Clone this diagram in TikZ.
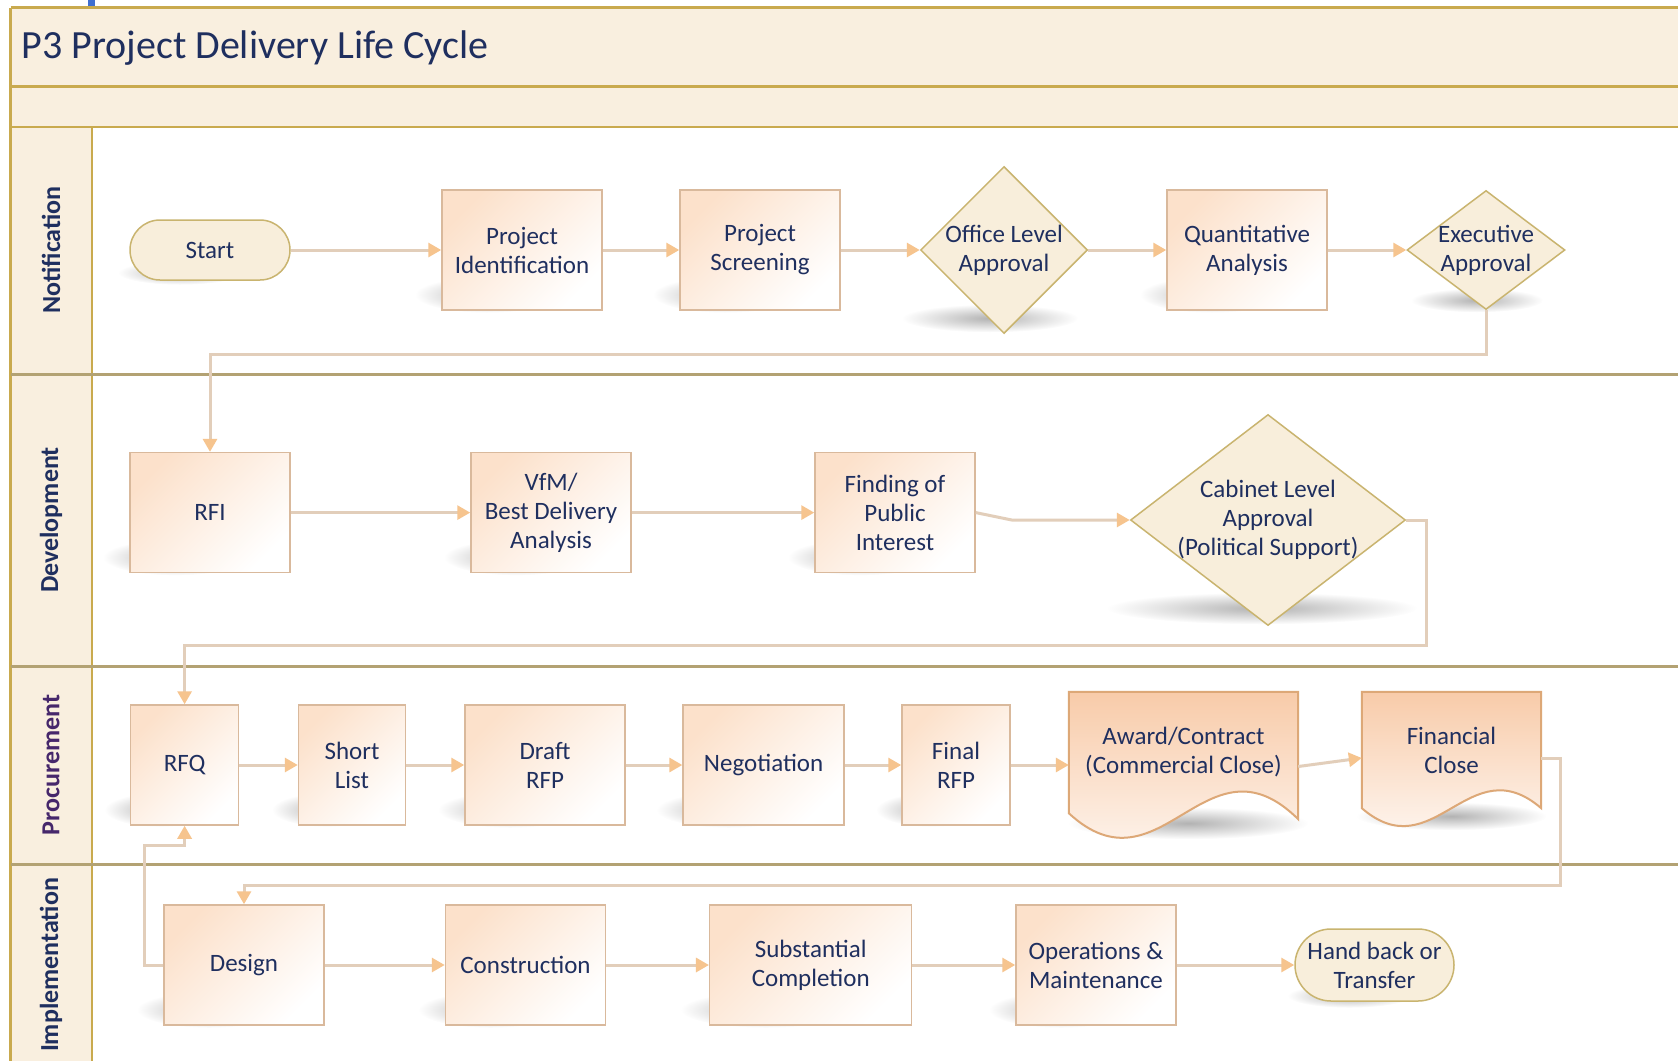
\documentclass[tikz,border=0pt]{standalone}
\usepackage{fontspec}
\setmainfont{Carlito}
\usetikzlibrary{arrows.meta,shapes.geometric,fadings,backgrounds}

\definecolor{navy}{HTML}{1F2F5F}
\definecolor{plum}{HTML}{46276B}
\definecolor{band}{HTML}{F9EFDF}
\definecolor{gold}{HTML}{C9AA4E}
\definecolor{olive}{HTML}{B3A273}
\definecolor{peach}{HTML}{FCE1CB}
\definecolor{peachdeep}{HTML}{F8CBA9}
\definecolor{boxline}{HTML}{D9B99C}
\definecolor{docline}{HTML}{DDA877}
\definecolor{cream}{HTML}{F8EEDB}
\definecolor{creamline}{HTML}{C9B46F}
\definecolor{flowline}{HTML}{E2CEBA}
\definecolor{flowtip}{HTML}{F6C48E}
\definecolor{marker}{HTML}{3F6FD0}

\tikzfading[name=softshade, inner color=transparent!70, outer color=transparent!100]

% shadow under a shape: centre, x radius, y radius
\newcommand{\castshadow}[3]{\fill[black, path fading=softshade] #1 ellipse (#2 and #3);}

\begin{document}
\begin{tikzpicture}[x=1pt, y=-1pt,
  txt/.style={font=\fontsize{25}{29}\selectfont, text=navy, align=center},
  process/.style={txt, rectangle, draw=boxline, line width=1.5pt, top color=peach, bottom color=white, shading angle=45, minimum width=160pt, minimum height=120pt, inner sep=2pt},
  decision/.style={diamond, draw=creamline, fill=cream, line width=1.5pt, inner sep=0pt},
  terminal/.style={txt, rectangle, rounded corners=30pt, draw=creamline, fill=cream, line width=1.5pt, minimum width=160pt, minimum height=60pt, inner sep=2pt},
  document/.style={txt, rectangle, inner sep=0pt},
  docshape/.style={draw=docline, line width=2pt, top color=peachdeep, bottom color=white},
  lane/.style={font=\fontsize{26}{30}\selectfont\bfseries, text=navy, rotate=90},
  flow/.style={draw=flowline, line width=3pt, -{Triangle[length=13pt, width=14pt, color=flowtip]}},
  divider/.style={draw=olive, line width=3pt},
]
\useasboundingbox (0,0) rectangle (1678,1060);

% frame
\fill[marker] (88,0) rectangle (95,6);
\fill[band] (10.7,7.5) rectangle (1690,127);
\fill[band] (10.7,127) rectangle (92,1070);
\draw[gold, line width=2.5pt] (10.7,7.5) --  (1690,7.5);
\draw[gold, line width=2.5pt] (10.7,86.7) --  (1690,86.7);
\draw[gold, line width=2.5pt] (10.7,127) --  (1690,127);
\draw[gold, line width=2.5pt] (10.7,7.5) --  (10.7,1070);
\draw[gold, line width=2.5pt] (92,127) --  (92,1070);
\draw[divider] (10.7,374.6) --  (1690,374.6);
\draw[divider] (10.7,666.7) --  (1690,666.7);
\draw[divider] (10.7,864.7) --  (1690,864.7);

\node[anchor=west, font=\fontsize{40}{46}\selectfont, text=navy] (title) at (18,48) {P3 Project Delivery Life Cycle};

\node[lane] (notif)   at (51,250)   {Notification};
\node[lane] (devel)   at (51,520)   {Development};
\node[lane, text=plum] (procure) at (51,765) {Procurement};
\node[lane] (implem)  at (51,965)   {Implementation};

% notification
\node[terminal] (start) at (210,250)  {Start};
\node[process]  (pid)   at (522,250)  {Project\\Identification};
\node[process]  (psc)   at (760,250)  {Project\\Screening};
\node[decision, minimum width=167pt, minimum height=167pt, label={[txt]center:{Office Level\\Approval}}] (ola) at (1004,250) {};
\node[process]  (qa)    at (1247,250) {Quantitative\\Analysis};
\node[decision, minimum width=158pt, minimum height=119pt, label={[txt]center:{Executive\\Approval}}] (exa) at (1486,250) {};

% development
\node[process]  (rfi)   at (210,512.6) {RFI};
\node[process]  (vfm)   at (551,512.6) {VfM/\\Best Delivery\\Analysis};
\node[process]  (fpi)   at (895,512.6) {Finding of\\Public\\Interest};
\node[decision, minimum width=275pt, minimum height=211pt, label={[txt]center:{Cabinet Level\\Approval\\(Political Support)}}] (cab) at (1268,520) {};

% procurement
\node[process, minimum width=108pt] (rfq)  at (184.6,765) {RFQ};
\node[process, minimum width=107pt] (sl)   at (352,765)   {Short\\List};
\node[process]                      (drfp) at (545,765)   {Draft\\RFP};
\node[process, minimum width=161pt] (neg)  at (763.6,765) {Negotiation};
\node[process, minimum width=108pt] (frfp) at (956,765)   {Final\\RFP};
\node[document, minimum width=229pt, minimum height=121pt] (aw) at (1183.5,752.5) {Award/Contract\\(Commercial Close)};
\node[document, minimum width=179pt, minimum height=116pt] (fc) at (1451.5,750)   {Financial\\Close};

% implementation
\node[process]  (des)   at (244,965)   {Design};
\node[process]  (con)   at (525.5,965) {Construction};
\node[process, minimum width=202pt] (sub) at (810.7,965) {Substantial\\Completion};
\node[process]  (om)    at (1096,965)  {Operations \&\\Maintenance};
\node[terminal, rounded corners=36pt, minimum width=159pt, minimum height=72pt] (hb) at (1374.5,965) {Hand back or\\Transfer};

% connectors
\draw[flow] (start) --  (pid);
\draw[flow] (pid) --  (psc);
\draw[flow] (psc) --  (ola);
\draw[flow] (ola) --  (qa);
\draw[flow] (qa) --  (exa);
\draw[flow] (exa.south) --  ++(0,44) -| (rfi.north);

\draw[flow] (rfi) --  (vfm);
\draw[flow] (vfm) --  (fpi);
\draw[flow] (fpi.east) --  ++(36,7.4) -- (cab.west);
\draw[flow] (cab.east) --  ++(20,0) -- ++(0,125) -| (rfq.north);

\draw[flow] (rfq) --  (sl);
\draw[flow] (sl) --  (drfp);
\draw[flow] (drfp) --  (neg);
\draw[flow] (neg) --  (frfp);
\draw[flow] (frfp.east) --  (frfp.east -| aw.west);
\draw[flow] ([yshift=-14pt]aw.east) --  ([yshift=-8pt]fc.west);
\draw[flow] ([yshift=-8pt]fc.east) --  ++(19,0) -- ++(0,127) -| (des.north);

\draw[flow] (des) --  (con);
\draw[flow] (con) --  (sub);
\draw[flow] (sub) --  (om);
\draw[flow] (om) --  (hb);
\draw[flow] (des.west) -| ++(-19,-120) -| (rfq.south);

\begin{scope}[on background layer]
\fill[white] (92,127) rectangle (1690,1070);
\castshadow{([shift={(-30,-8)}]start.south)}{62}{12}
\castshadow{([shift={(-35,-16)}]pid.south)}{72}{18}
\castshadow{([shift={(-35,-16)}]psc.south)}{72}{18}
\castshadow{([shift={(-14,-16)}]ola.south)}{88}{14}
\castshadow{([shift={(-35,-16)}]qa.south)}{72}{18}
\castshadow{([shift={(-9,-10)}]exa.south)}{66}{12}
\castshadow{([shift={(-35,-16)}]rfi.south)}{72}{18}
\castshadow{([shift={(-35,-16)}]vfm.south)}{72}{18}
\castshadow{([shift={(-35,-16)}]fpi.south)}{72}{18}
\castshadow{([shift={(-6,-18)}]cab.south)}{155}{16}
\castshadow{([shift={(-25,-16)}]rfq.south)}{55}{17}
\castshadow{([shift={(-25,-16)}]sl.south)}{55}{17}
\castshadow{([shift={(-35,-16)}]drfp.south)}{72}{18}
\castshadow{([shift={(-35,-16)}]neg.south)}{72}{18}
\castshadow{([shift={(-25,-16)}]frfp.south)}{55}{17}
\castshadow{([shift={(5,10)}]aw.south)}{120}{16}
\castshadow{([shift={(0,8)}]fc.south)}{95}{14}
\castshadow{([shift={(-35,-16)}]des.south)}{72}{18}
\castshadow{([shift={(-35,-16)}]con.south)}{72}{18}
\castshadow{([shift={(-45,-16)}]sub.south)}{85}{18}
\castshadow{([shift={(-35,-16)}]om.south)}{72}{18}
\castshadow{([shift={(-25,-6)}]hb.south)}{62}{12}

% document shapes
\draw[docshape] (aw.north west) -- (aw.north east) -- ([yshift=-6pt]aw.south east)
  .. controls ([shift={(-92,-85)}]aw.south east) and ([shift={(92,85)}]aw.south west) .. (aw.south west) -- cycle;
\draw[docshape] (fc.north west) -- (fc.north east) -- (fc.south east)
  .. controls ([shift={(-72,-62)}]fc.south east) and ([shift={(72,62)}]fc.south west) .. (fc.south west) -- cycle;
\end{scope}
\end{tikzpicture}
\end{document}
